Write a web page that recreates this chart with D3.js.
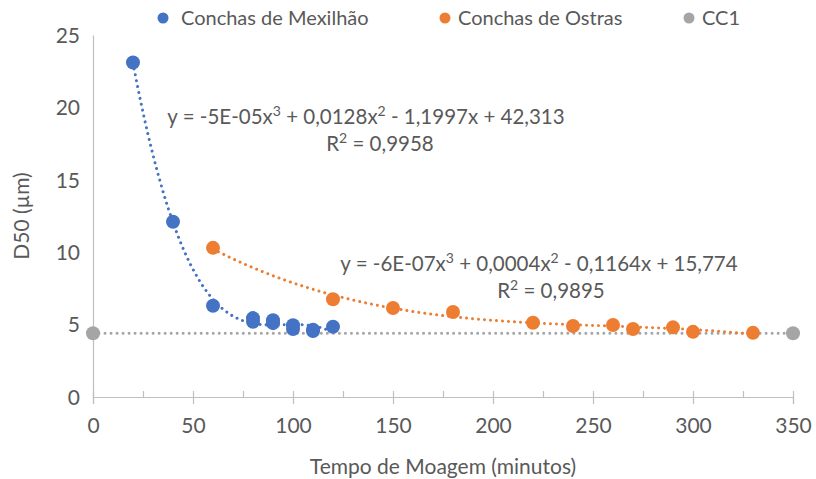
<!DOCTYPE html>
<meta charset="utf-8">
<script src="https://cdn.jsdelivr.net/npm/d3@7"></script>
<style>
  body { margin: 0; background: #fff; }
  svg text { font-family: Lato, "Open Sans", sans-serif; fill: #595959; }
</style>
<div id="vis"></div>
<script>
// data
const musselX = [20, 40, 60, 80, 80, 90, 90, 100, 100, 110, 110, 120]
const musselY = [23.1, 12.1, 6.3, 5.45, 5.2, 5.3, 5.1, 4.95, 4.7, 4.65, 4.55, 4.85]
const oysterX = [60, 120, 150, 180, 220, 240, 260, 270, 290, 300, 330]
const oysterY = [10.3, 6.75, 6.15, 5.87, 5.13, 4.9, 4.97, 4.7, 4.81, 4.5, 4.43]
const cc1X = [0, 350]
const cc1Y = [4.4, 4.4]
const seriesNames = ["Conchas de Mexilhão", "Conchas de Ostras", "CC1"]
const xTicks = [0, 50, 100, 150, 200, 250, 300, 350]
const yTicks = [0, 5, 10, 15, 20, 25]
const eqMussel = ["y = -5E-05x", "3", " + 0,0128x", "2", " - 1,1997x + 42,313"]
const r2Mussel = ["R", "2", " = 0,9958"]
const eqOyster = ["y = -6E-07x", "3", " + 0,0004x", "2", " - 0,1164x + 15,774"]
const r2Oyster = ["R", "2", " = 0,9895"]

const colors = ["#4472C4", "#ED7D31", "#A5A5A5"]

const W = 816, H = 479
const svg = d3.select("#vis").append("svg").attr("width", W).attr("height", H)

const x = d3.scaleLinear().domain([0, 350]).range([93, 793])
const y = d3.scaleLinear().domain([0, 25]).range([397, 35])

// least squares polynomial fit (degree n)
function polyfit(xs, ys, n) {
  const m = n + 1
  const A = [], b = []
  for (let i = 0; i < m; i++) {
    A.push(new Array(m).fill(0)); b.push(0)
  }
  xs.forEach((xv, k) => {
    const t = xv / 100
    for (let i = 0; i < m; i++) {
      for (let j = 0; j < m; j++) A[i][j] += Math.pow(t, i + j)
      b[i] += ys[k] * Math.pow(t, i)
    }
  })
  for (let c = 0; c < m; c++) {
    let p = c
    for (let r = c + 1; r < m; r++) if (Math.abs(A[r][c]) > Math.abs(A[p][c])) p = r;
    [A[c], A[p]] = [A[p], A[c]];
    [b[c], b[p]] = [b[p], b[c]]
    for (let r = c + 1; r < m; r++) {
      const f = A[r][c] / A[c][c]
      for (let j = c; j < m; j++) A[r][j] -= f * A[c][j]
      b[r] -= f * b[c]
    }
  }
  const coef = new Array(m).fill(0)
  for (let i = m - 1; i >= 0; i--) {
    let s = b[i]
    for (let j = i + 1; j < m; j++) s -= A[i][j] * coef[j]
    coef[i] = s / A[i][i]
  }
  return xv => coef.reduce((acc, c, i) => acc + c * Math.pow(xv / 100, i), 0)
}

// axes
const axisColor = "#BFBFBF"
const gx = svg.append("g").attr("transform", `translate(0,${y(0)})`)
  .call(d3.axisBottom(x).tickValues(xTicks).tickSize(7).tickPadding(14).tickFormat(d3.format("d")))
const gxMinor = svg.append("g").attr("transform", `translate(0,${y(0)})`)
  .call(d3.axisTop(x).tickValues(d3.range(0, 351, 25)).tickSize(6).tickFormat(""))
const gy = svg.append("g").attr("transform", `translate(${x(0)},0)`)
  .call(d3.axisLeft(y).tickValues(yTicks).tickSize(0).tickPadding(13))

;[gx, gxMinor, gy].forEach(g => {
  g.selectAll("path, line").attr("stroke", axisColor).attr("stroke-width", 1.2)
  g.selectAll("text").style("font-size", "21px").attr("fill", "#595959")
})
gxMinor.select("path").remove()
gy.selectAll("text").attr("dy", "0.35em")

// axis titles
svg.append("text").attr("x", x(175)).attr("y", 474).attr("text-anchor", "middle")
  .style("font-size", "21px").text("Tempo de Moagem (minutos)")
svg.append("text").attr("transform", `translate(29,${y(12.5)}) rotate(-90)`)
  .attr("text-anchor", "middle").style("font-size", "21px").text("D50 (µm)")

// trendlines
const line = d3.line().x(d => x(d[0])).y(d => y(d[1]))
function trend(xs, ys, deg, color) {
  const f = polyfit(xs, ys, deg)
  const lo = d3.min(xs), hi = d3.max(xs)
  const pts = d3.range(0, 201).map(i => {
    const xv = lo + (hi - lo) * i / 200
    return [xv, f(xv)]
  })
  svg.append("path").datum(pts).attr("d", line)
    .attr("fill", "none").attr("stroke", color).attr("stroke-width", 3)
    .attr("stroke-linecap", "round").attr("stroke-dasharray", "0.01 6")
}
trend(cc1X, cc1Y, 1, colors[2])
trend(musselX, musselY, 3, colors[0])
trend(oysterX, oysterY, 3, colors[1])

// points
function points(xs, ys, color) {
  svg.append("g").selectAll("circle").data(xs.map((v, i) => [v, ys[i]]))
    .join("circle").attr("cx", d => x(d[0])).attr("cy", d => y(d[1]))
    .attr("r", 7).attr("fill", color)
}
points(cc1X, cc1Y, colors[2])
points(musselX, musselY, colors[0])
points(oysterX, oysterY, colors[1])

// equation labels
function rich(parts, cx, cy) {
  const t = svg.append("text").attr("x", cx).attr("y", cy).attr("text-anchor", "middle")
    .style("font-size", "20.5px")
  parts.forEach((p, i) => {
    const sup = i % 2 === 1
    t.append("tspan").text(p)
      .attr("baseline-shift", sup ? "super" : null)
      .style("font-size", sup ? "14px" : null)
  })
}
rich(eqMussel, 366, 124)
rich(r2Mussel, 380, 151)
rich(eqOyster, 539, 271)
rich(r2Oyster, 551, 298)

// legend
const legendPos = [[163, 181], [445, 458], [689, 702]]
seriesNames.forEach((name, i) => {
  svg.append("circle").attr("cx", legendPos[i][0]).attr("cy", 18).attr("r", 5.5).attr("fill", colors[i])
  svg.append("text").attr("x", legendPos[i][1]).attr("y", 25)
    .style("font-size", "20px").text(name)
})
</script>
